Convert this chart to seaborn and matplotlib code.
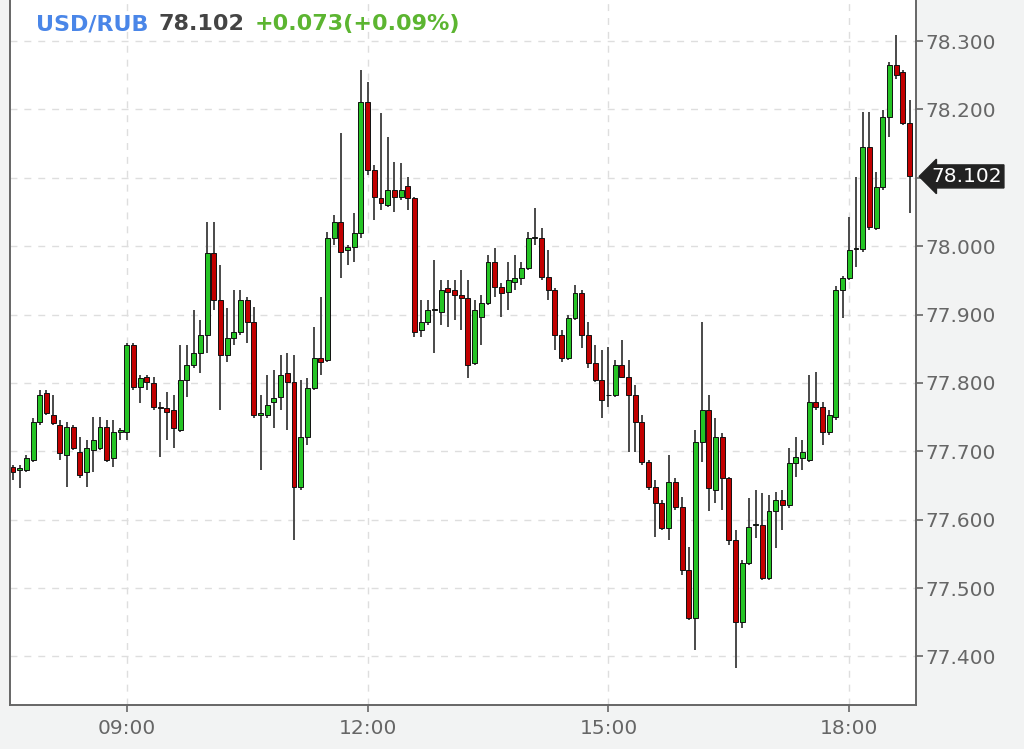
import numpy as np
import pandas as pd
import seaborn as sns
import matplotlib.pyplot as plt

# USD/RUB, свечи по 5 минут (07:35 - 18:45)
times = pd.date_range("2021-01-01 07:35", periods=135, freq="5min")

opens = [77.677, 77.673, 77.673, 77.688, 77.743, 77.785, 77.753, 77.739, 77.695, 77.736,
         77.699, 77.670, 77.702, 77.705, 77.736, 77.690, 77.728, 77.728, 77.856, 77.794,
         77.809, 77.800, 77.765, 77.764, 77.761, 77.731, 77.804, 77.826, 77.844, 77.870,
         77.990, 77.921, 77.841, 77.866, 77.875, 77.921, 77.889, 77.753, 77.753, 77.772,
         77.780, 77.815, 77.802, 77.648, 77.721, 77.793, 77.837, 77.834, 78.012, 78.035,
         77.995, 77.999, 78.019, 78.211, 78.111, 78.071, 78.060, 78.082, 78.072, 78.088,
         78.071, 77.878, 77.889, 77.907, 77.904, 77.939, 77.936, 77.929, 77.924, 77.829,
         77.897, 77.917, 77.977, 77.940, 77.933, 77.948, 77.954, 77.968, 78.012, 78.012,
         77.955, 77.936, 77.870, 77.837, 77.895, 77.932, 77.870, 77.829, 77.804, 77.783,
         77.783, 77.826, 77.809, 77.783, 77.743, 77.685, 77.648, 77.625, 77.588, 77.655,
         77.619, 77.527, 77.456, 77.714, 77.761, 77.644, 77.721, 77.661, 77.571, 77.451,
         77.537, 77.592, 77.592, 77.515, 77.612, 77.629, 77.622, 77.683, 77.690, 77.688,
         77.772, 77.765, 77.728, 77.750, 77.936, 77.954, 77.996, 77.996, 78.145, 78.027,
         78.087, 78.189, 78.265, 78.255, 78.180]
highs = [77.680, 77.680, 77.695, 77.749, 77.790, 77.790, 77.783, 77.746, 77.743, 77.739,
         77.721, 77.717, 77.750, 77.750, 77.746, 77.746, 77.734, 77.859, 77.859, 77.812,
         77.812, 77.809, 77.772, 77.787, 77.783, 77.856, 77.856, 77.907, 77.892, 78.035,
         78.035, 77.973, 77.910, 77.936, 77.936, 77.926, 77.911, 77.783, 77.812, 77.819,
         77.841, 77.844, 77.841, 77.804, 77.807, 77.882, 77.926, 78.021, 78.046, 78.166,
         78.002, 78.049, 78.258, 78.240, 78.119, 78.195, 78.160, 78.123, 78.122, 78.101,
         78.072, 77.921, 77.921, 77.980, 77.951, 77.951, 77.951, 77.965, 77.951, 77.921,
         77.929, 77.987, 77.997, 77.946, 77.977, 77.987, 77.977, 78.021, 78.056, 78.027,
         77.995, 77.939, 77.878, 77.900, 77.943, 77.936, 77.889, 77.856, 77.848, 77.853,
         77.834, 77.863, 77.834, 77.797, 77.753, 77.688, 77.658, 77.629, 77.695, 77.661,
         77.633, 77.560, 77.731, 77.889, 77.783, 77.749, 77.727, 77.663, 77.585, 77.541,
         77.632, 77.644, 77.639, 77.636, 77.641, 77.644, 77.705, 77.721, 77.717, 77.812,
         77.816, 77.772, 77.761, 77.942, 77.957, 78.043, 78.101, 78.196, 78.196, 78.109,
         78.199, 78.269, 78.309, 78.258, 78.214]
lows = [77.658, 77.647, 77.670, 77.685, 77.739, 77.753, 77.739, 77.688, 77.648, 77.702,
        77.661, 77.648, 77.670, 77.702, 77.685, 77.677, 77.717, 77.717, 77.790, 77.771,
        77.790, 77.761, 77.692, 77.717, 77.705, 77.728, 77.780, 77.822, 77.815, 77.844,
        77.907, 77.761, 77.831, 77.856, 77.870, 77.859, 77.749, 77.673, 77.749, 77.734,
        77.761, 77.731, 77.571, 77.644, 77.709, 77.790, 77.812, 77.831, 78.002, 77.954,
        77.973, 77.977, 78.012, 78.104, 78.038, 78.053, 78.057, 78.050, 78.068, 78.053,
        77.867, 77.867, 77.885, 77.844, 77.885, 77.882, 77.892, 77.878, 77.807, 77.826,
        77.856, 77.914, 77.926, 77.897, 77.907, 77.936, 77.943, 77.965, 78.002, 77.951,
        77.921, 77.848, 77.831, 77.834, 77.892, 77.851, 77.822, 77.802, 77.749, 77.765,
        77.780, 77.807, 77.699, 77.699, 77.680, 77.644, 77.575, 77.585, 77.571, 77.614,
        77.519, 77.454, 77.410, 77.685, 77.612, 77.625, 77.614, 77.563, 77.383, 77.442,
        77.534, 77.573, 77.512, 77.512, 77.559, 77.585, 77.617, 77.663, 77.673, 77.685,
        77.761, 77.709, 77.724, 77.746, 77.895, 77.951, 77.970, 77.992, 78.024, 78.024,
        78.082, 78.160, 78.245, 78.177, 78.049]
closes = [77.670, 77.676, 77.690, 77.743, 77.783, 77.756, 77.742, 77.698, 77.736, 77.705,
          77.666, 77.705, 77.717, 77.736, 77.688, 77.728, 77.731, 77.856, 77.794, 77.807,
          77.802, 77.765, 77.764, 77.758, 77.734, 77.804, 77.826, 77.844, 77.870, 77.990,
          77.921, 77.841, 77.866, 77.875, 77.921, 77.889, 77.753, 77.756, 77.768, 77.778,
          77.812, 77.802, 77.648, 77.721, 77.793, 77.837, 77.831, 78.012, 78.035, 77.992,
          77.999, 78.019, 78.211, 78.111, 78.072, 78.063, 78.082, 78.072, 78.082, 78.071,
          77.875, 77.889, 77.907, 77.908, 77.936, 77.933, 77.929, 77.924, 77.826, 77.907,
          77.917, 77.977, 77.940, 77.932, 77.951, 77.954, 77.968, 78.012, 78.013, 77.955,
          77.936, 77.870, 77.837, 77.895, 77.932, 77.870, 77.829, 77.804, 77.775, 77.782,
          77.826, 77.809, 77.783, 77.743, 77.685, 77.648, 77.625, 77.588, 77.655, 77.619,
          77.527, 77.456, 77.714, 77.761, 77.647, 77.721, 77.661, 77.571, 77.451, 77.537,
          77.590, 77.593, 77.515, 77.612, 77.629, 77.622, 77.683, 77.692, 77.699, 77.772,
          77.765, 77.728, 77.753, 77.936, 77.954, 77.995, 77.997, 78.145, 78.028, 78.087,
          78.189, 78.265, 78.250, 78.180, 78.102]

price_ticks = [77.4, 77.5, 77.6, 77.7, 77.8, 77.9, 78.0, 78.1, 78.2, 78.3]
time_ticks = ["09:00", "12:00", "15:00", "18:00"]

df = pd.DataFrame({"time": times, "open": opens, "high": highs, "low": lows, "close": closes})
df["x"] = np.arange(len(df))
df["up"] = df["close"] >= df["open"]

sns.set_theme(style="white")
plt.rcParams["font.family"] = ["DejaVu Sans"]

fig = plt.figure(figsize=(10.24, 7.49), dpi=100, facecolor="#f2f3f3")
ax = fig.add_axes([10 / 1024, 44 / 749, 906 / 1024, 705 / 749])
ax.set_facecolor("white")

# фитили и тела свечей
ax.vlines(df["x"], df["low"], df["high"], color="#4a4a4a", lw=1.4, zorder=2)
body_colors = np.where(df["up"], "#25c425", "#c20000")
ax.bar(df["x"], (df["close"] - df["open"]).abs().clip(lower=0.0005),
       bottom=df[["open", "close"]].min(axis=1), width=0.74,
       color=body_colors, edgecolor="#111111", linewidth=0.7, zorder=3)

ax.set_xlim(-0.45, 134.97)
ax.set_ylim(77.329, 78.360)

labels = df["time"].dt.strftime("%H:%M")
xt = [df.loc[labels == t, "x"].iloc[0] for t in time_ticks]
ax.set_xticks(xt)
ax.set_xticklabels(time_ticks)
ax.set_yticks(price_ticks)
# подпись 78.100 закрыта меткой последней цены
last = closes[-1]
ax.set_yticklabels(["" if abs(p - last) < 0.02 else f"{p:.3f}" for p in price_ticks])
ax.yaxis.tick_right()

ax.tick_params(axis="both", length=5, width=1.2, color="#666666",
               labelcolor="#666666", labelsize=14.5)
ax.tick_params(axis="y", pad=2, right=True, left=False)
ax.tick_params(axis="x", pad=5, bottom=True)

ax.grid(True, color="#dedede", linestyle=(0, (5, 5)), lw=1)
ax.set_axisbelow(True)

for side in ["left", "bottom", "right"]:
    ax.spines[side].set_visible(True)
    ax.spines[side].set_color("#666666")
    ax.spines[side].set_linewidth(1.4)
ax.spines["top"].set_visible(False)

# заголовок: три куска текста подряд
renderer = fig.canvas.get_renderer()
hdr_y = 1 - 30 / 705
x_px = ax.transAxes.transform((0, 0))[0] + 26
for txt, col in [("USD/RUB", "#4a86e8"), ("78.102", "#444444"), ("+0.073(+0.09%)", "#5cb531")]:
    x_ax = ax.transAxes.inverted().transform((x_px, 0))[0]
    t = ax.text(x_ax, hdr_y, txt, transform=ax.transAxes, color=col,
                fontsize=16, fontweight="bold", va="baseline")
    x_px = t.get_window_extent(renderer).x1 + 10

# метка последней цены
ax.annotate(f"{last:.3f}", xy=(1.0, last), xycoords=("axes fraction", "data"),
            xytext=(11, 0), textcoords="offset points", va="center", ha="left",
            color="white", fontsize=14.5,
            bbox=dict(boxstyle="larrow,pad=0.1", fc="#222222", ec="#222222"),
            annotation_clip=False, zorder=5)

plt.savefig("out.png", dpi=100, facecolor=fig.get_facecolor())
